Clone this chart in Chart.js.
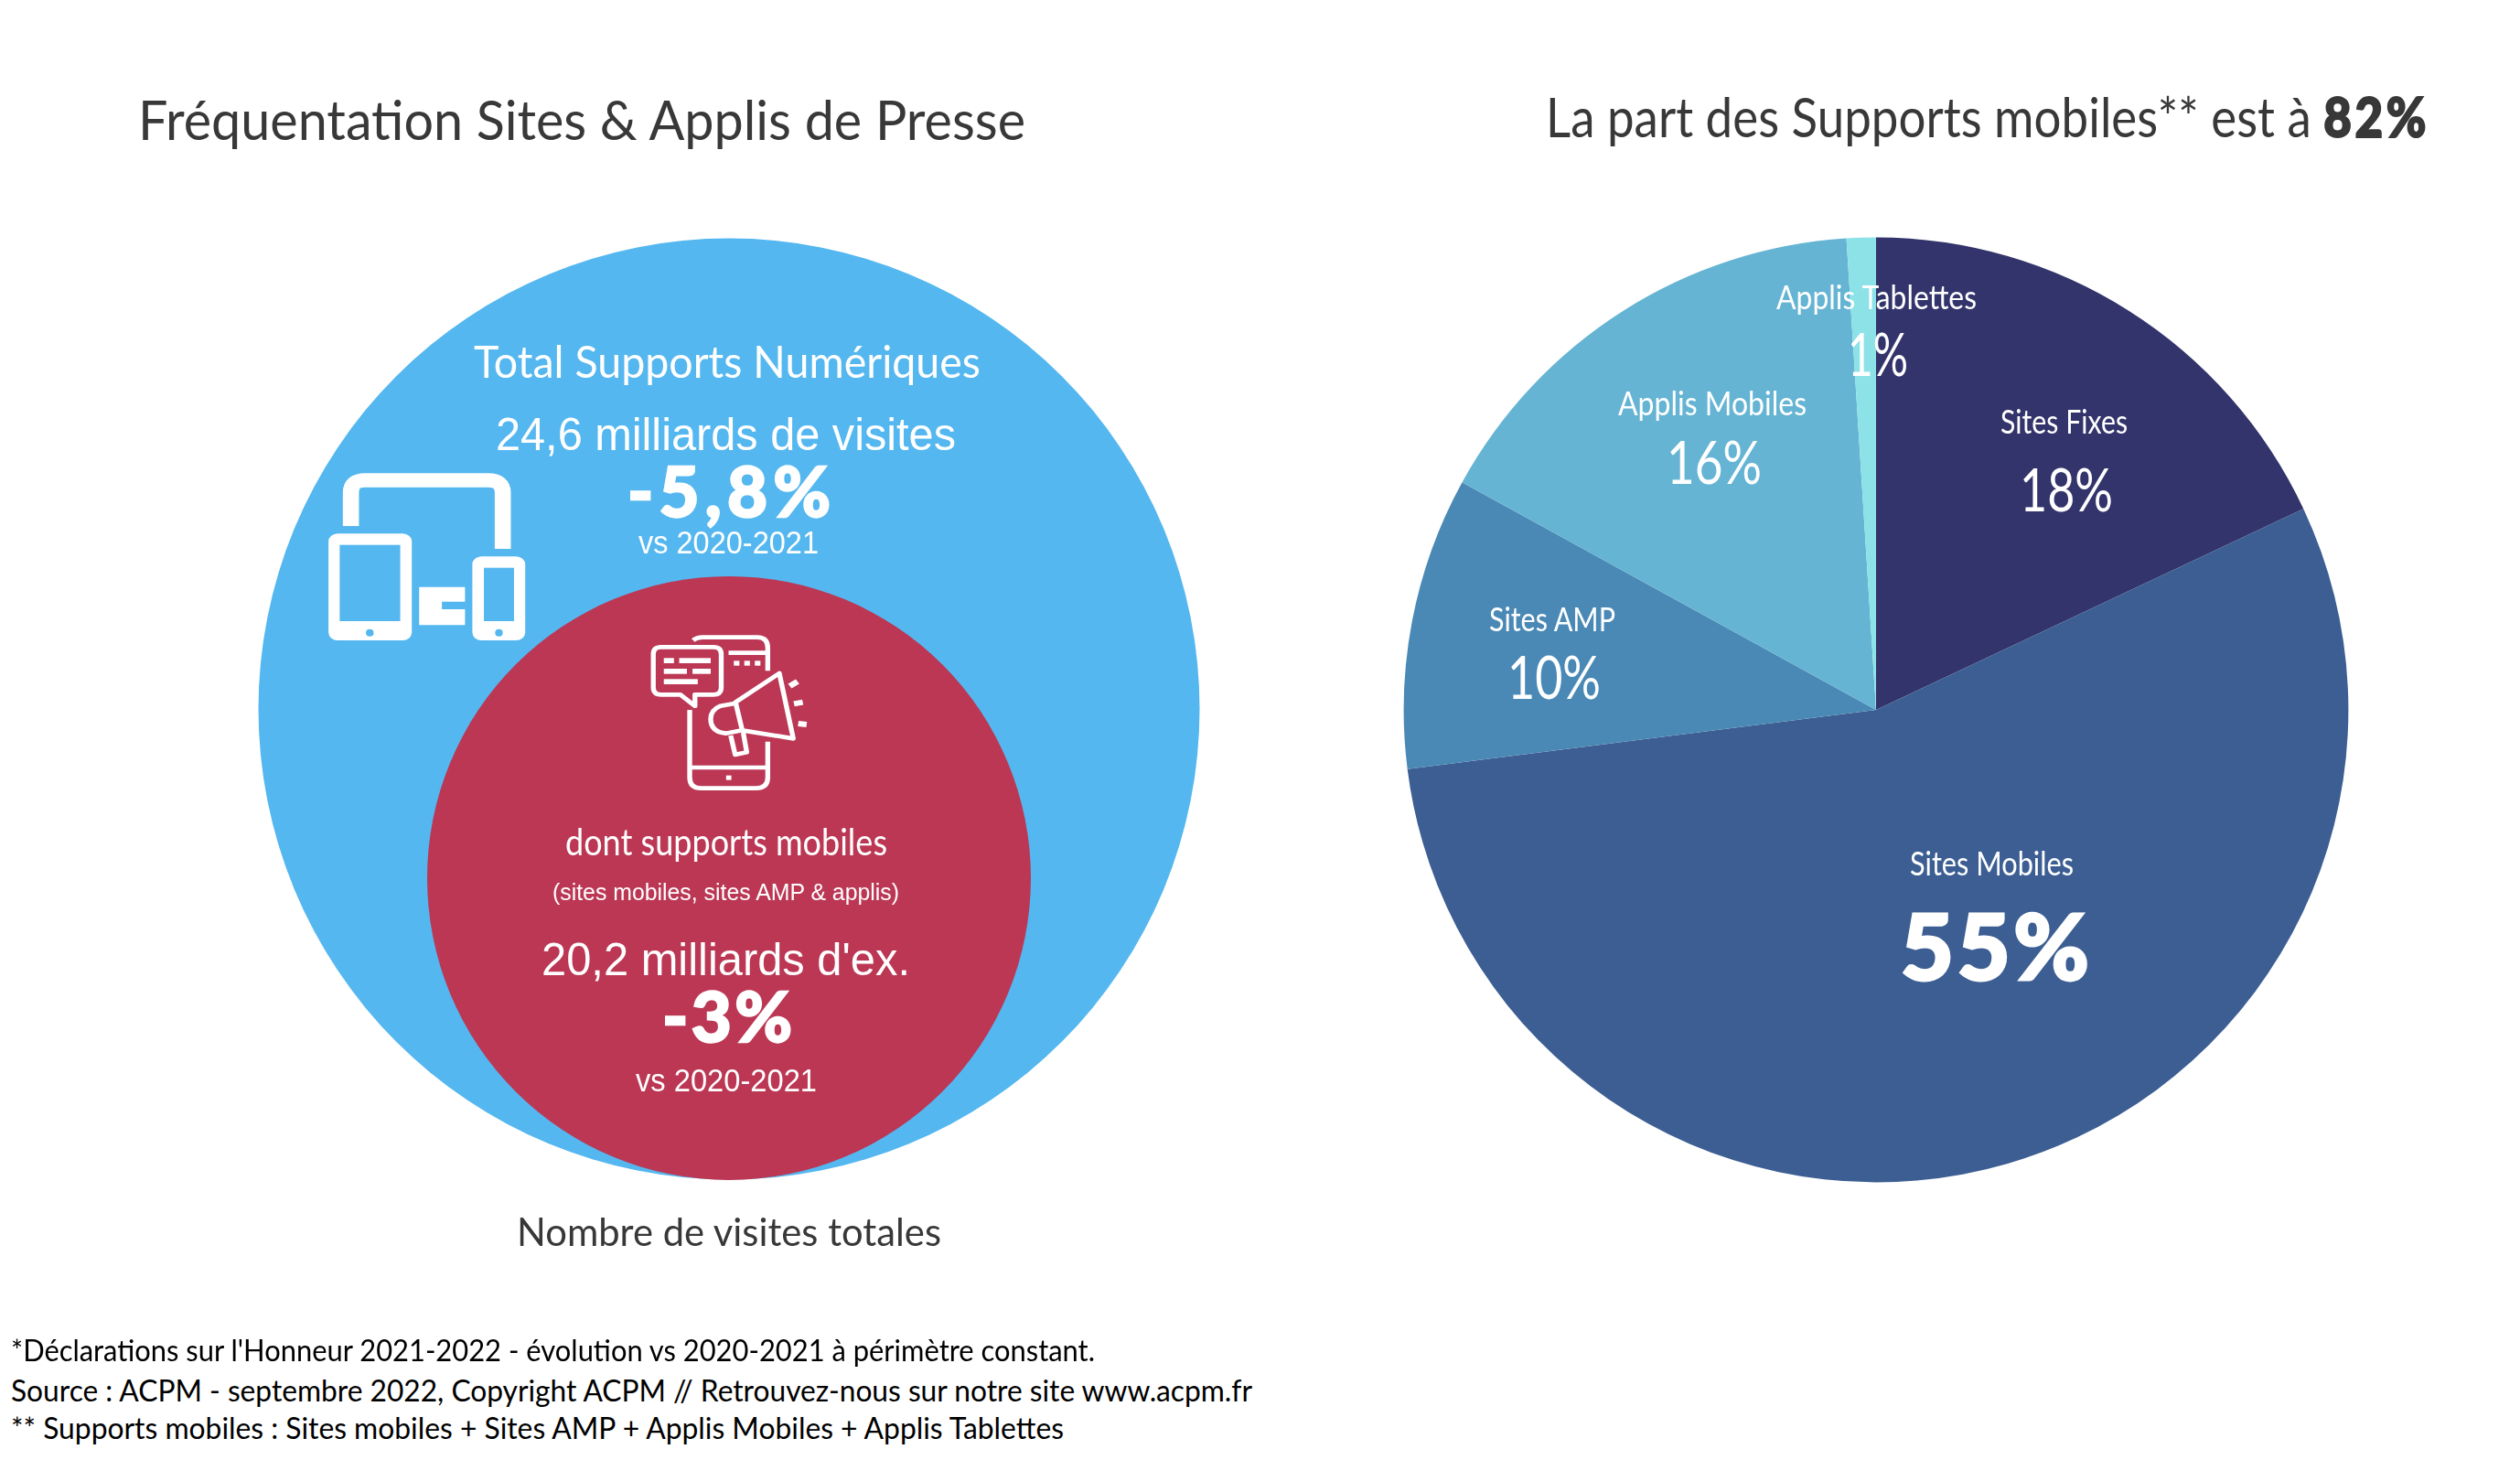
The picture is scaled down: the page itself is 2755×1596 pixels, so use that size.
<!DOCTYPE html>
<html lang="fr">
<head>
<meta charset="utf-8">
<title>Fréquentation Sites & Applis de Presse</title>
<script src="https://cdn.jsdelivr.net/npm/chart.js@4"></script>
<style>
    html, body { margin: 0; padding: 0; background: #fff; }
    #page { position: relative; width: 2755px; height: 1596px; overflow: hidden; }
    canvas, svg { position: absolute; }
    .txt { position: absolute; white-space: pre; line-height: 1; transform-origin: 0 50%; }
</style>
</head>
<body>
<div id="page">
    <canvas id="visitsChart" width="1430" height="1430" style="left:82px;top:60px"></canvas>
    <canvas id="shareChart" width="1040" height="1040" style="left:1531px;top:256px"></canvas>

    <!-- Icons, in a 1568x1200 box stretched over 600x400 -->
    <svg viewBox="0 0 1568 1200" preserveAspectRatio="none" style="left:340px;top:500px;width:600px;height:400px">
        <g id="devices">
            <path d="M114 225V115Q114 75 155 75H505Q548 75 548 115V300" fill="none" stroke="#fff" stroke-width="46"/>
            <rect x="50" y="250" width="238" height="350" rx="26" fill="#fff"/>
            <rect x="82" y="287" width="173" height="250" fill="#55b7ef"/>
            <ellipse cx="168" cy="575" rx="11" ry="12" fill="#55b7ef"/>
            <rect x="461" y="325" width="151" height="275" rx="26" fill="#fff"/>
            <rect x="494" y="362" width="86" height="175" fill="#55b7ef"/>
            <ellipse cx="537" cy="575" rx="11" ry="12" fill="#55b7ef"/>
            <path d="M309 425H440V473H374V498H440V550H309Z" fill="#fff"/>
        </g>
        <g id="megaphone" fill="none" stroke="#fff" stroke-width="14" stroke-linejoin="round">
            <path d="M1092 600Q1102 590 1120 590H1275Q1305 590 1305 625V700"/>
            <path d="M1193 641H1305"/>
            <path d="M1082 828V1050Q1082 1085 1115 1085H1270Q1305 1085 1305 1050V932"/>
            <path d="M1082 1017H1305"/>
            <path d="M1000 622H1150Q1172 622 1172 645V755Q1172 778 1150 778H1097V815L1055 778H1000Q978 778 978 755V645Q978 622 1000 622Z"/>
            <path d="M1213 803L1338 708L1378 922L1232 895Z"/>
            <path d="M1213 806L1170 815Q1142 828 1142 858Q1142 900 1185 905L1232 895"/>
            <path d="M1199 912L1212 975L1245 967L1235 903"/>
            <path d="M1368 750L1390 735M1380 808L1405 803M1392 873L1416 876" stroke-width="18"/>
            <g fill="#fff" stroke="none">
                <rect x="1208" y="667" width="16" height="16"/><rect x="1238" y="667" width="16" height="16"/><rect x="1268" y="667" width="16" height="16"/>
                <rect x="1186" y="1043" width="15" height="15"/>
                <rect x="1008" y="658" width="29" height="17"/><rect x="1052" y="658" width="90" height="17"/>
                <rect x="1008" y="693" width="66" height="17"/><rect x="1090" y="693" width="52" height="17"/>
                <rect x="1008" y="727" width="97" height="17"/>
            </g>
        </g>
    </svg>
</div>

<script>
// Left chart
const visitLabels = ['Total Supports Numériques', 'dont supports mobiles'];
const visitValues = [24.6, 20.2];
const visitChanges = ['-5,8%', '-3%'];

// Right chart
const shareLabels = ['Sites Fixes', 'Sites Mobiles', 'Sites AMP', 'Applis Mobiles', 'Applis Tablettes'];
const shareValues = [18, 55, 10, 16, 1];
const mobileShare = 82;

const visitColors = ['#55b7ef', '#bb3754'];
const visitRadii = [514.5, 330];
const shareColors = ['#32346b', '#3c5e93', '#4a89b5', '#65b4d3', '#8ce2e7'];

const SANS = '"Liberation Sans", Arial, sans-serif';
const GEO = 'Lato, sans-serif';

// Chart.js shrinks the chart area by the biggest bubble radius, so the canvas is
// 1430 wide to leave a 400px area: one axis unit is one pixel.
// The two circles touch at the bottom.
new Chart(document.getElementById('visitsChart'), {
    type: 'bubble',
    data: {
        labels: visitLabels,
        datasets: [{
            data: visitValues.map((v, i) => ({
                x: 0,
                y: visitRadii[i] - visitRadii[0],
                r: visitRadii[i]
            })),
            backgroundColor: visitColors,
            borderWidth: 0,
            clip: false
        }]
    },
    options: {
        responsive: false,
        animation: false,
        devicePixelRatio: 1,
        layout: { padding: 0 },
        scales: {
            x: { display: false, min: -200, max: 200 },
            y: { display: false, min: -200, max: 200 }
        },
        plugins: { legend: { display: false }, tooltip: { enabled: false } }
    }
});

new Chart(document.getElementById('shareChart'), {
    type: 'pie',
    data: {
        labels: shareLabels,
        datasets: [{
            data: shareValues,
            backgroundColor: shareColors,
            borderWidth: 0
        }]
    },
    options: {
        responsive: false,
        animation: false,
        devicePixelRatio: 1,
        radius: 516.4,
        layout: { padding: 0 },
        plugins: { legend: { display: false }, tooltip: { enabled: false } }
    }
});

// Puts a text between two x positions with its baseline at y
function addText(html, left, right, y, size, font, weight, color) {
    const el = document.createElement('div');
    el.className = 'txt';
    el.innerHTML = html;
    el.style.font = `${weight} ${size}px ${font}`;
    el.style.lineHeight = '1';
    el.style.color = color;
    if (weight === 900) el.style.webkitTextStroke = `${size * 0.03}px ${color}`;
    document.getElementById('page').appendChild(el);
    const width = el.getBoundingClientRect().width;
    const spare = right - left - width;
    if (spare < 0) {
        el.style.transform = `scaleX(${(right - left) / width})`;
    } else {
        el.style.letterSpacing = `${spare / Math.max(1, el.textContent.length - 1)}px`;
    }
    el.style.left = `${left}px`;
    el.style.top = `${y - size * (font === SANS ? 0.8465 : 0.84)}px`;
}

const DARK = '#383838';
addText('Fréquentation Sites &amp; Applis de Presse', 151, 1121, 150, 60, GEO, 400, DARK);
addText(`La part des Supports mobiles** est à <b style="font-weight:900;letter-spacing:4px;-webkit-text-stroke:2px ${DARK}">${mobileShare}%</b>`, 1690, 2656, 147, 60, GEO, 400, DARK);

addText(visitLabels[0], 518, 1072, 411, 48, GEO, 400, '#fff');
addText(`${String(visitValues[0]).replace('.', ',')} milliards de visites`, 542, 1045, 492, 50, SANS, 400, '#fff');
addText(visitChanges[0], 686, 908, 562, 76, GEO, 900, '#fff');
addText('vs 2020-2021', 698, 895, 605, 35, SANS, 400, '#fff');

addText(visitLabels[1], 618, 970, 934, 40, GEO, 400, '#fff');
addText('(sites mobiles, sites AMP &amp; applis)', 604, 983, 984, 26, SANS, 400, '#fff');
addText(`${String(visitValues[1]).replace('.', ',')} milliards d'ex.`, 592, 995, 1066, 50, SANS, 400, '#fff');
addText(visitChanges[1], 724, 866, 1136, 76, GEO, 900, '#fff');
addText('vs 2020-2021', 695, 893, 1193, 35, SANS, 400, '#fff');

addText('Nombre de visites totales', 565, 1029, 1360, 43, GEO, 400, DARK);

// Pie labels: name then percentage, same order as shareLabels
addText(shareLabels[0], 2187, 2326, 472, 36, GEO, 400, '#fff');
addText(`${shareValues[0]}%`, 2208, 2310, 556, 66, GEO, 400, '#fff');
addText(shareLabels[1], 2088, 2267, 955, 36, GEO, 400, '#fff');
addText(`${shareValues[1]}%`, 2078, 2284, 1066, 100, GEO, 900, '#fff');
addText(shareLabels[2], 1628, 1766, 688, 36, GEO, 400, '#fff');
addText(`${shareValues[2]}%`, 1648, 1750, 761, 66, GEO, 400, '#fff');
addText(shareLabels[3], 1769, 1975, 452, 36, GEO, 400, '#fff');
addText(`${shareValues[3]}%`, 1822, 1926, 526, 66, GEO, 400, '#fff');
addText(shareLabels[4], 1942, 2161, 336, 36, GEO, 400, '#fff');
addText(`${shareValues[4]}%`, 2020, 2086, 408, 66, GEO, 400, '#fff');

addText("*Déclarations sur l'Honneur 2021-2022 - évolution vs 2020-2021 à périmètre constant.", 12, 1197, 1487, 32, GEO, 400, '#000');
addText('Source : ACPM - septembre 2022, Copyright ACPM // Retrouvez-nous sur notre site www.acpm.fr', 12, 1369, 1531, 32, GEO, 400, '#000');
addText('** Supports mobiles : Sites mobiles + Sites AMP + Applis Mobiles + Applis Tablettes', 12, 1163, 1572, 32, GEO, 400, '#000');
</script>
</body>
</html>
